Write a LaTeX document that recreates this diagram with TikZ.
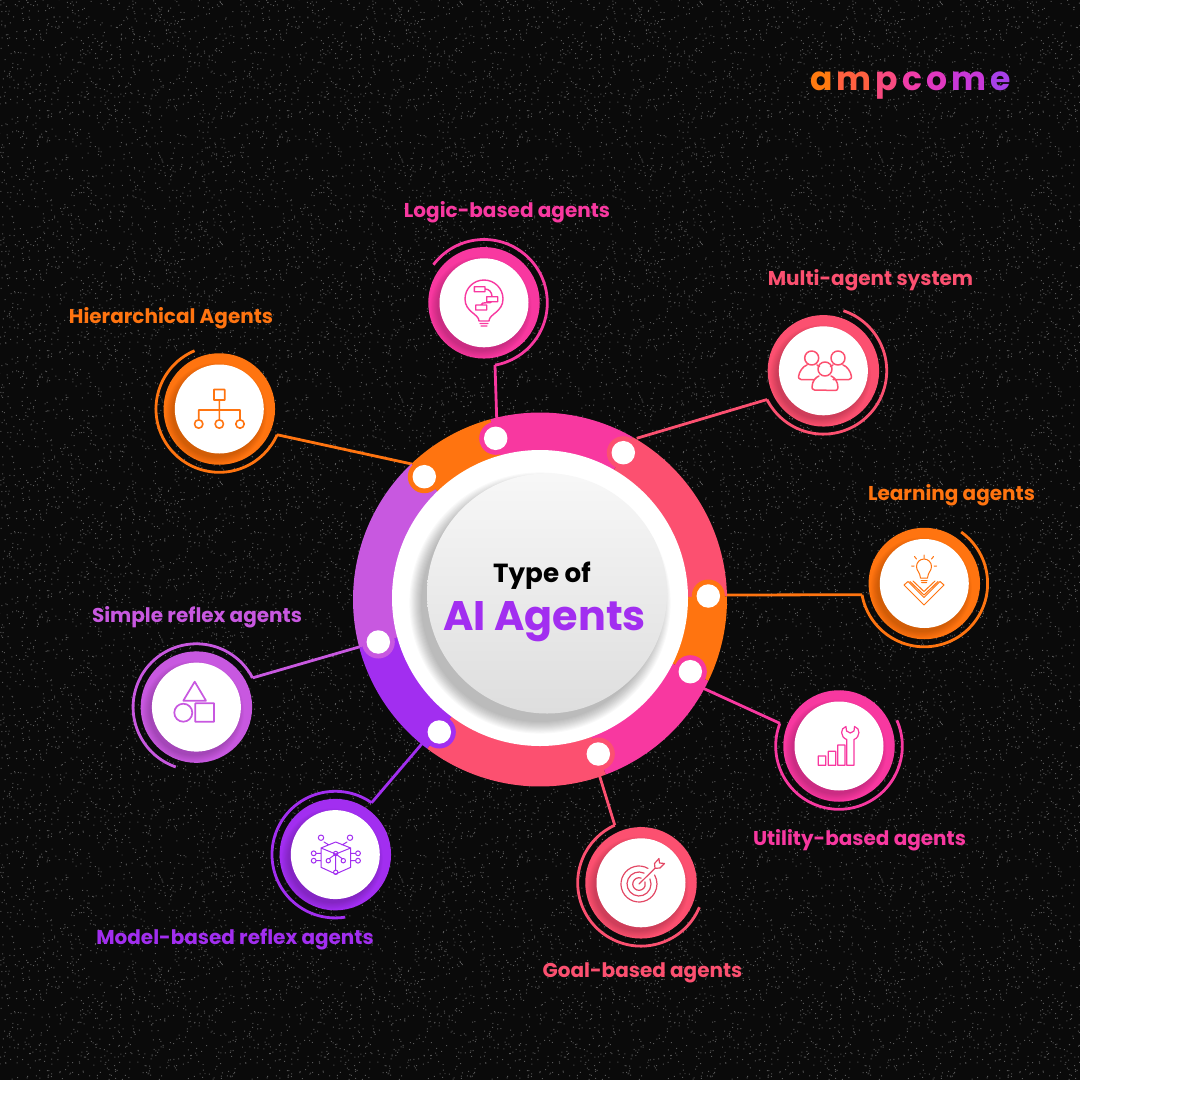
\documentclass[tikz,border=0pt]{standalone}
\usepackage{fontspec}
\setmainfont{Poppins}
\usetikzlibrary{positioning, patterns}

\definecolor{colorange}{HTML}{FF7410}
\definecolor{colpink}{HTML}{F838A0}
\definecolor{colcoral}{HTML}{FC5070}
\definecolor{colviolet}{HTML}{A22EF0}
\definecolor{collilac}{HTML}{C858E0}

\pgfdeclarepatternformonly{specks}{\pgfpointorigin}{\pgfqpoint{240pt}{240pt}}{\pgfqpoint{240pt}{240pt}}{%
    \pgfmathsetseed{11}
    \foreach \i in {1,...,1300} {
        \pgfmathsetmacro{\sx}{rnd*238}
        \pgfmathsetmacro{\sy}{rnd*238}
        \pgfpathrectangle{\pgfpoint{\sx pt}{\sy pt}}{\pgfqpoint{1pt}{1pt}}
        \pgfusepath{fill}
    }
}

\tikzset{
    disc/.style={circle, inner sep=0pt, minimum size=#1},
    agenttext/.style={inner sep=0pt, font=\fontsize{20}{24}\selectfont\bfseries},
    logoletter/.style={inner sep=0pt, anchor=base, font=\fontsize{33}{36}\selectfont\bfseries},
    icon/.style={line width=1.4pt, line cap=round, line join=round},
}

\begin{document}
\begin{tikzpicture}[x=1pt, y=-1pt]
\useasboundingbox (0,0) rectangle (1195,1109);

% Background
\fill[black!96] (0,0) rectangle (1080,1080);
\fill[pattern=specks, pattern color=black!66] (0,0) rectangle (1080,1080);
\fill[white] (1080,0) rectangle (1195,1109) (0,1080) rectangle (1080,1109);

% Ring centre and dots
\coordinate (ring) at (540,599.5);
\foreach \i/\x/\y/\col in {1/424.3/476.7/colorange, 2/495.7/438.3/colpink, 3/623.3/452.7/colcoral,
    4/708.3/596/colorange, 5/690.3/671.7/colpink, 6/598.3/754/colcoral,
    7/439.3/732/colviolet, 8/378.3/642/collilac} {
    \coordinate (dot\i) at (\x,\y);
}

% Agent discs, outer arcs and connectors
\foreach \i/\cx/\cy/\col/\from/\to/\jx/\jy in {
    1/219.3/409/colorange/-113/-336/411.7/464,
    2/484/302.8/colpink/-143/80/496.7/418.3,
    3/823.4/370.8/colcoral/-71.6/153/636.7/438.3,
    4/924.3/583.5/colorange/-54.4/169.8/727/595,
    5/839/746/colpink/-24/201/703.3/688.3,
    6/641/882.8/colcoral/22.7/245.5/599.3/775,
    7/335.3/854.6/colviolet/81/305/422.3/743.3,
    8/196.4/707.1/collilac/109/332.5/360/646.7} {
    \node[disc=111.5pt, fill=\col] (agent\i) at (\cx,\cy) {};
    \coordinate (arcstart\i) at ([shift={(\from:63.3)}]agent\i.center);
    \coordinate (arcend\i) at ([shift={(\to:63.3)}]agent\i.center);
    \coordinate (joint\i) at (\jx,\jy);
    \draw[\col, line width=2.8pt] (arcstart\i) arc[start angle=\from, end angle=\to, radius=63.3];
    \draw[\col, line width=2.8pt] (arcend\i) -- (joint\i);
    % soft shadow below the white face
    \begin{scope}
        \clip (agent\i.center) circle[radius=55.7];
        \foreach \k in {1,...,9} {
            \fill[black, opacity=0.02] ([shift={(-3,4.5)}]agent\i.center) circle[radius=43+0.85*\k];
        }
    \end{scope}
    \node[disc=89pt, fill=white] (face\i) at (agent\i.center) {};
}

% Ring segments, each one starts at its dot
\foreach \from/\to/\col in {-105.4/-60.3/colpink, -60.3/-1/colcoral, -1/25.8/colorange, 25.8/69.4/colpink,
    69.4/127.1/colcoral, 127.1/165.1/colviolet, 165.1/226.6/collilac, 226.6/254.6/colorange} {
    \fill[\col] (ring) -- ([shift={(\from:187)}]ring) arc[start angle=\from, end angle=\to, radius=187] -- cycle;
}

% Dots with halo
\foreach \i/\col in {1/colorange, 2/colpink, 3/colcoral, 4/colorange, 5/colpink, 6/colcoral, 7/colviolet, 8/collilac} {
    \node[disc=33pt, fill=\col] (halo\i) at (dot\i) {};
    \node[disc=23.5pt, fill=white] (hole\i) at (dot\i) {};
}

% Centre
\node[disc=296pt, fill=white] (plate) at (540,598) {};
\begin{scope}
    \clip (plate.center) circle[radius=148];
    \foreach \k in {1,...,12} {
        \fill[black, opacity=0.022] (540,603) circle[radius=118+1.05*\k];
    }
\end{scope}
\node[disc=240pt, top color=black!3, bottom color=black!13] (core) at (547,593.5) {};
\node[inner sep=0pt, text=black, font=\fontsize{26.2}{30}\selectfont\bfseries] (typeof) at (542,576) {Type of};
\node[inner sep=0pt, text=colviolet, font=\fontsize{41.3}{46}\selectfont\bfseries] (aiagents) at (544.5,621.5) {AI Agents};

% Agent names
\node[agenttext, text=colorange] (name1) at (171,318) {Hierarchical Agents};
\node[agenttext, text=colpink] (name2) at (507,212) {Logic-based agents};
\node[agenttext, text=colcoral] (name3) at (870.5,280) {Multi-agent system};
\node[agenttext, text=colorange] (name4) at (951.5,495) {Learning agents};
\node[agenttext, text=colpink] (name5) at (859.5,840) {Utility-based agents};
\node[agenttext, text=colcoral] (name6) at (642.5,972.5) {Goal-based agents};
\node[agenttext, text=colviolet] (name7) at (235,939) {Model-based reflex agents};
\node[agenttext, text=collilac] (name8) at (197,617) {Simple reflex agents};

% Logo
\foreach \i/\x/\ch/\col in {1/822/a/FF7A10, 2/853.7/m/FF6040, 3/887/p/F84A80, 4/912/c/F03CA8,
    5/936.7/o/E038C0, 6/968.7/m/C838D8, 7/1000.3/e/A840E8} {
    \definecolor{logocol}{HTML}{\col}
    \node[logoletter, text=logocol] (logo\i) at (\x,90) {\ch};
}

% Hierarchy icon
\draw[icon, colorange, line width=1.6pt] (214,389.5) rectangle (224.7,400)
    (219.3,400) -- (219.3,420) (198.7,420) -- (198.7,410) -- (240,410) -- (240,420)
    (198.7,424) circle[radius=4.2] (219.3,424) circle[radius=4.2] (240,424) circle[radius=4.2];

% Bulb with flow chart icon
\draw[icon, colpink] (479,321) .. controls (479,314) and (465,312) .. (465,299)
    arc[start angle=180, end angle=360, radius=19] .. controls (503,312) and (489,314) .. (489,321) -- cycle
    (480,323.5) -- (488,323.5) (481,326) -- (487,326)
    (474.3,286.7) rectangle (485,291.7) (486.7,296.7) rectangle (497.7,301.7) (475.7,305) rectangle (486.7,310)
    (485,289) .. controls (489,289) and (492,292) .. (492,296.7)
    (491.7,301.7) .. controls (491.7,304) and (481,301) .. (481,305);

% People icon
\draw[icon, colcoral, line width=1.5pt] (811.7,358) circle[radius=7] (838,358) circle[radius=7] (825,369) circle[radius=7]
    (813,379.5) -- (801,379.5) arc[start angle=90, end angle=190, radius=2.5]
    .. controls (799,372) and (803,366) .. (807,365)
    (817,365) -- (819.5,366.5)
    (833,379.5) -- (849,379.5) arc[start angle=90, end angle=-10, radius=2.5]
    .. controls (851,372) and (847,366) .. (843,365)
    (833,365) -- (830.5,366.5)
    (814.5,390) arc[start angle=90, end angle=190, radius=2.5]
    .. controls (812,381) and (816,377) .. (819,376)
    (831,376) .. controls (834,377) and (838,381) .. (838,387.5)
    arc[start angle=-10, end angle=90, radius=2.5] -- (814.5,390);

% Lamp and chevron icon
\draw[icon, colorange, line width=1pt] (920.5,578) .. controls (920,572) and (916.5,571) .. (916.5,566.5)
    arc[start angle=180, end angle=360, radius=7.5] .. controls (931.5,571) and (928,572) .. (927.5,578) -- cycle
    (921,580.5) -- (927,580.5) (921.5,582.5) -- (926.5,582.5)
    (924,555) -- (924,558) (914.5,556.5) -- (916.5,559) (933.5,556.5) -- (931.5,559)
    (911.5,566) -- (914,566) (936.5,566) -- (934,566)
    (904,585) -- (924,605) -- (944,585) -- (940,581.5) -- (924,597.5) -- (908,581.5) -- cycle
    (910,581.5) -- (924,595) -- (938,581.5)
    (913,581) -- (924,591.5) -- (935,581);

% Bars and spanner icon
\draw[icon, colpink, line width=1.2pt] (818.3,756) rectangle (825.7,765.3) (828.3,751.3) rectangle (835.7,765.3)
    (837.7,745) rectangle (845,765.3)
    (846.7,765.3) -- (846.7,739.5)
    .. controls (840,737) and (840,728) .. (846,726.5) -- (846.5,731) -- (850.3,733) -- (854,731) -- (854.5,726.5)
    .. controls (860.5,728) and (860.5,737) .. (854,739.5) -- (854,765.3) -- cycle;

% Target icon
\draw[icon, colcoral!90!black, line width=1.2pt] (648,868.4) arc[start angle=-60, end angle=-390, radius=18]
    (644.1,873.1) arc[start angle=-65, end angle=-385, radius=12]
    (641.2,878.1) arc[start angle=-70, end angle=-380, radius=6.3]
    (639,884) -- (655,868.3) (655,868.3) -- (654.5,863.5) -- (659,858.5) -- (659.5,863) -- (664.5,863.5) -- (660,868) -- cycle;

% Model cube icon
\draw[icon, colviolet, line width=1pt] (335.7,842) -- (350.7,848) -- (350.7,867.3) -- (335.7,874) -- (321,867.3) -- (321,848) -- cycle
    (321,848) -- (335.7,854) -- (350.7,848) (335.7,854) -- (335.7,870)
    (324,842) -- (329,845) (347,842) -- (342,845) (316.5,853.3) -- (321,853.3) (316.5,860.7) -- (321,860.7)
    (355,853.3) -- (350.7,853.3) (355,860.7) -- (350.7,860.7) (335.7,854) -- (329.5,858.5) (335.7,854) -- (342,858.5)
    (321,837.7) circle[radius=2.7] (350,837.7) circle[radius=2.7] (335.7,853.5) circle[radius=2.2]
    (328.3,860.7) circle[radius=2.2] (343.3,860.7) circle[radius=2.2] (335.7,872.3) circle[radius=2.2]
    (313.7,853.3) circle[radius=2.4] (313.7,860.7) circle[radius=2.4] (358,853.3) circle[radius=2.4] (358,860.7) circle[radius=2.4];

% Shapes icon
\draw[icon, collilac, line width=1.7pt] (194.7,681.7) -- (206,700.7) -- (183.3,700.7) -- cycle
    (183.3,712.7) circle[radius=9] (195.3,703.3) rectangle (214,721.7);

\end{tikzpicture}
\end{document}
